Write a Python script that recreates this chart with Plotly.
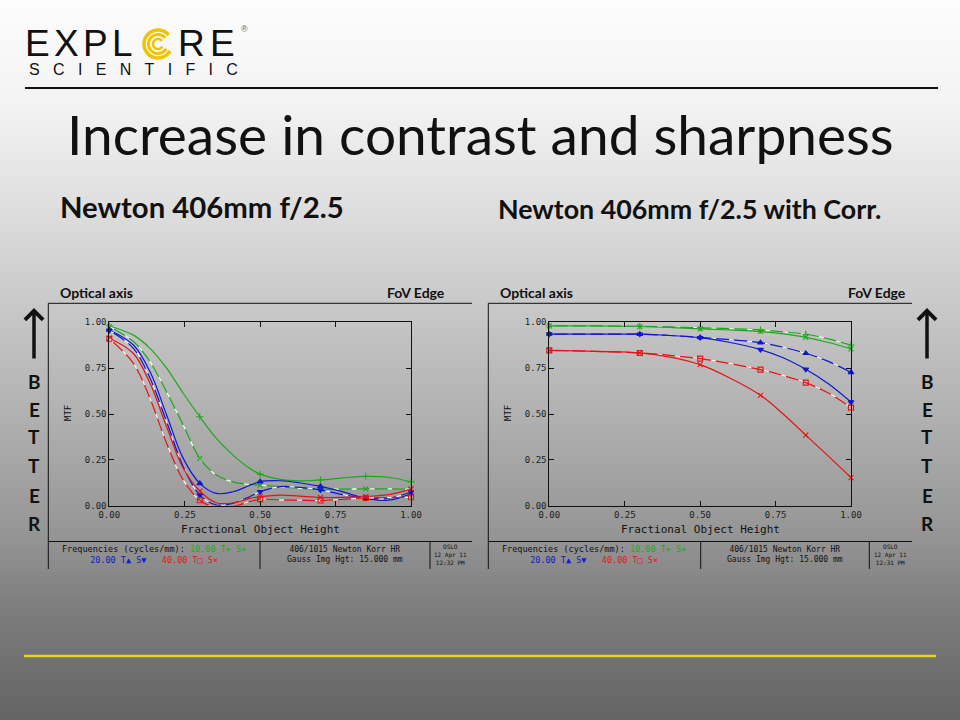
import numpy as np
import plotly.graph_objects as go

# 1. Data
# x = fractional object height, y = MTF
LEFT_X = [0, 0.08, 0.135, 0.19, 0.245, 0.30, 0.355, 0.41, 0.465, 0.50, 0.565, 0.63, 0.70, 0.775, 0.85, 0.925, 1.00]
left_green_t = [0.98, 0.93, 0.858, 0.75, 0.613, 0.485, 0.367, 0.276, 0.204, 0.172, 0.144, 0.135, 0.14, 0.152, 0.16, 0.155, 0.13]
left_green_s = [0.976, 0.895, 0.785, 0.62, 0.44, 0.258, 0.167, 0.13, 0.116, 0.112, 0.104, 0.095, 0.09, 0.09, 0.092, 0.092, 0.09]
left_blue_t = [0.958, 0.876, 0.73, 0.495, 0.258, 0.122, 0.067, 0.076, 0.11, 0.131, 0.136, 0.125, 0.105, 0.075, 0.04, 0.03, 0.065]
left_blue_s = [0.955, 0.858, 0.695, 0.458, 0.213, 0.058, 0.004, 0.013, 0.049, 0.076, 0.104, 0.10, 0.086, 0.06, 0.042, 0.04, 0.075]
left_red_t = [0.913, 0.83, 0.667, 0.43, 0.204, 0.08, 0.016, 0.015, 0.04, 0.049, 0.058, 0.052, 0.045, 0.045, 0.05, 0.06, 0.09]
left_red_s = [0.91, 0.776, 0.585, 0.34, 0.14, 0.03, -0.011, -0.005, 0.022, 0.036, 0.031, 0.03, 0.028, 0.035, 0.042, 0.044, 0.046]

RIGHT_X = [0, 0.15, 0.30, 0.40, 0.50, 0.60, 0.70, 0.775, 0.85, 0.925, 1.00]
right_green_t = [0.98, 0.98, 0.978, 0.975, 0.97, 0.965, 0.958, 0.948, 0.935, 0.91, 0.876]
right_green_s = [0.98, 0.98, 0.977, 0.972, 0.964, 0.958, 0.95, 0.937, 0.918, 0.89, 0.855]
right_blue_t = [0.936, 0.936, 0.935, 0.928, 0.918, 0.905, 0.889, 0.864, 0.831, 0.787, 0.727]
right_blue_s = [0.936, 0.936, 0.935, 0.928, 0.916, 0.89, 0.851, 0.807, 0.744, 0.665, 0.565]
right_red_t = [0.847, 0.842, 0.833, 0.82, 0.802, 0.775, 0.742, 0.71, 0.671, 0.615, 0.535]
right_red_s = [0.847, 0.842, 0.833, 0.81, 0.769, 0.695, 0.602, 0.5, 0.385, 0.27, 0.153]

# field points where OSLO puts a marker
MARK_X = [0, 0.30, 0.50, 0.70, 0.85, 1.00]

TICK_VALS = [0, 0.25, 0.5, 0.75, 1.0]
TICK_TEXT = ["0.00", "0.25", "0.50", "0.75", "1.00"]

GREEN = "#1ea81e"
BLUE = "#1018d0"
RED = "#e41414"
MONO = "DejaVu Sans Mono"
SANS = "Lato"

W, H = 960, 720


def px(x):
    return x / W


def py(y):
    return 1 - y / H


fig = go.Figure()

# 2. Curves: (y values, colour, marker, white-dashed?)
left_series = [
    (left_green_t, GREEN, "cross-thin", False),
    (left_green_s, GREEN, "x-thin", True),
    (left_blue_t, BLUE, "triangle-up", False),
    (left_blue_s, BLUE, "triangle-down", True),
    (left_red_t, RED, "x-thin", False),
    (left_red_s, RED, "square-open", True),
]
right_series = [
    (right_green_t, GREEN, "cross-thin", True),
    (right_green_s, GREEN, "x-thin", False),
    (right_blue_t, BLUE, "triangle-up", True),
    (right_blue_s, BLUE, "triangle-down", False),
    (right_red_t, RED, "square-open", True),
    (right_red_s, RED, "x-thin", False),
]

for xs, series, xa, ya in [(LEFT_X, left_series, "x", "y"), (RIGHT_X, right_series, "x2", "y2")]:
    for ys, color, symbol, dashed in series:
        fig.add_trace(go.Scatter(x=xs, y=ys, mode="lines", xaxis=xa, yaxis=ya,
                                 line=dict(color=color, width=1.2, shape="spline", smoothing=1.0),
                                 hoverinfo="skip", showlegend=False))
        if dashed:
            fig.add_trace(go.Scatter(x=xs, y=ys, mode="lines", xaxis=xa, yaxis=ya,
                                     line=dict(color="white", width=1.3, shape="spline",
                                               smoothing=1.0, dash="5px,13px"),
                                     hoverinfo="skip", showlegend=False))
        mx = [x for x in xs if x in MARK_X]
        my = [y for x, y in zip(xs, ys) if x in MARK_X]
        fig.add_trace(go.Scatter(x=mx, y=my, mode="markers", xaxis=xa, yaxis=ya, cliponaxis=False,
                                 marker=dict(symbol=symbol, size=5, color=color,
                                             line=dict(color=color, width=1.1)),
                                 hoverinfo="skip", showlegend=False))

# 3. Axes
axis_common = dict(range=[0, 1], showline=True, mirror="ticks", linecolor="#111", linewidth=1,
                   ticks="inside", ticklen=5, tickcolor="#111", tickvals=TICK_VALS, ticktext=TICK_TEXT,
                   tickfont=dict(family=MONO, size=9, color="#222"), showgrid=False, zeroline=False)
plot_top, plot_bot = 322.3, 505.7
fig.update_layout(
    xaxis=dict(domain=[px(109.3), px(411)], anchor="y", **axis_common),
    yaxis=dict(domain=[py(plot_bot), py(plot_top)], anchor="x", **axis_common),
    xaxis2=dict(domain=[px(549.3), px(851)], anchor="y2", **axis_common),
    yaxis2=dict(domain=[py(plot_bot), py(plot_top)], anchor="x2", **axis_common),
)

# 4. Slide decoration: gradient background, rules, panel frames
shapes = []
grad_y = [0, 100, 200, 300, 420, 540, 600, 720]
grad_g = [253, 244, 224, 202, 176, 148, 128, 100]
for y0 in range(0, H, 4):
    g = int(np.interp(y0 + 2, grad_y, grad_g))
    shapes.append(dict(type="rect", xref="paper", yref="paper", x0=-0.02, x1=1.02,
                       y0=py(y0 + 4.5) if y0 + 4 < H else -0.02, y1=py(y0) if y0 > 0 else 1.02,
                       fillcolor=f"rgb({g},{g},{g})", line=dict(width=0), layer="below"))


def seg(x0, y0, x1, y1, color="#111", width=1):
    shapes.append(dict(type="line", xref="paper", yref="paper", x0=px(x0), y0=py(y0), x1=px(x1), y1=py(y1),
                       line=dict(color=color, width=width)))


seg(25, 88, 938, 88, width=2)
seg(24, 656, 936, 656, color="#e8d41c", width=2.5)

for dx, right_edge, divs in [(0, 472, (260, 430)), (440, 912, (700.7, 869.3))]:
    left_edge = 48.3 + dx
    seg(left_edge, 303.3, right_edge, 303.3)
    seg(left_edge, 303.3, left_edge, 569)
    seg(left_edge, 541.5, right_edge, 541.5)
    for d in divs:
        seg(d, 541.5, d, 569)

# yellow swirl standing in for the "O" of the logo
cx, cy = 158, 44
for r, wdt in [(14, 3.5), (9.5, 3), (5, 2.5)]:
    ang = np.radians(np.linspace(40, 330, 40))
    pts = [(px(cx + r * np.cos(a)), py(cy - r * np.sin(a))) for a in ang]
    path = "M " + " L ".join(f"{x:.5f},{y:.5f}" for x, y in pts)
    shapes.append(dict(type="path", xref="paper", yref="paper", path=path,
                       line=dict(color="#f0c400", width=wdt)))

# 5. Texts
ann = []


def text(x, y, s, size, family=SANS, color="#111", xanchor="center", yanchor="middle", bold=False, angle=0):
    if bold:
        s = f"<b>{s}</b>"
    ann.append(dict(x=px(x), y=py(y), xref="paper", yref="paper", text=s, showarrow=False,
                    xanchor=xanchor, yanchor=yanchor, textangle=angle, borderpad=0,
                    font=dict(family=family, size=size, color=color)))


nb = "\u00a0"
for ch, xc in zip("EXPL RE", [37, 66, 95, 123, 158, 191, 222]):
    if ch != " ":
        text(xc, 43, ch, 37, family="Liberation Sans")
text(28, 69, (nb * 3).join("SCIENTIFIC"), 16, family="Liberation Sans", xanchor="left")
text(245, 29, "®", 9, family="Liberation Sans", color="#666")

text(480, 134, "Increase in contrast and sharpness", 55)
text(59, 207, "Newton 406mm f/2.5", 29.3, xanchor="left", bold=True)
text(497, 209, "Newton 406mm f/2.5 with Corr.", 26.8, xanchor="left", bold=True)

for dx, end_x, stamp in [(0, 446, "12:32 PM"), (440, 907, "12:31 PM")]:
    text(59 + dx, 292.5, "Optical axis", 14, xanchor="left", bold=True)
    text(end_x, 292.5, "FoV Edge", 14, xanchor="right", bold=True)
    text(68 + dx, 413, "MTF", 9, family=MONO, angle=-90)
    text(260 + dx, 529, "Fractional Object Height", 11, family=MONO)
    freq = (f"Frequencies (cycles/mm): <span style='color:{GREEN}'>10.00 T+ S×</span><br>"
            f"<span style='color:{BLUE}'>20.00 T▲ S▼</span>{nb*3}<span style='color:{RED}'>40.00 T□ S×</span>")
    text(154 + dx, 554, freq, 8.5, family=MONO)
    text(345 + dx, 554, "406/1015 Newton Korr HR<br>Gauss Img Hgt: 15.000 mm", 8, family=MONO)
    text(450 + dx, 554, f"OSLO<br>12 Apr 11<br>{stamp}", 6, family=MONO)

# BETTER arrows at both sides
for xc in (34, 927):
    ann.append(dict(x=px(xc), y=py(308), xref="paper", yref="paper", ax=0, ay=52, text="",
                    showarrow=True, arrowhead=4, arrowwidth=3.5, arrowsize=1, arrowcolor="#111", standoff=0))
    for ch, yc in zip("BETTER", [381, 409, 437, 465, 495, 523]):
        text(xc, yc, ch, 19, bold=True)

fig.update_layout(width=W, height=H, margin=dict(l=0, r=0, t=0, b=0, autoexpand=False),
                  paper_bgcolor="#c8c8c8", plot_bgcolor="rgba(0,0,0,0)",
                  shapes=shapes, annotations=ann, showlegend=False)

fig.write_html("out.html", config={"displayModeBar": False},
               post_script="document.body.style.margin='0';document.body.style.overflow='hidden';")
